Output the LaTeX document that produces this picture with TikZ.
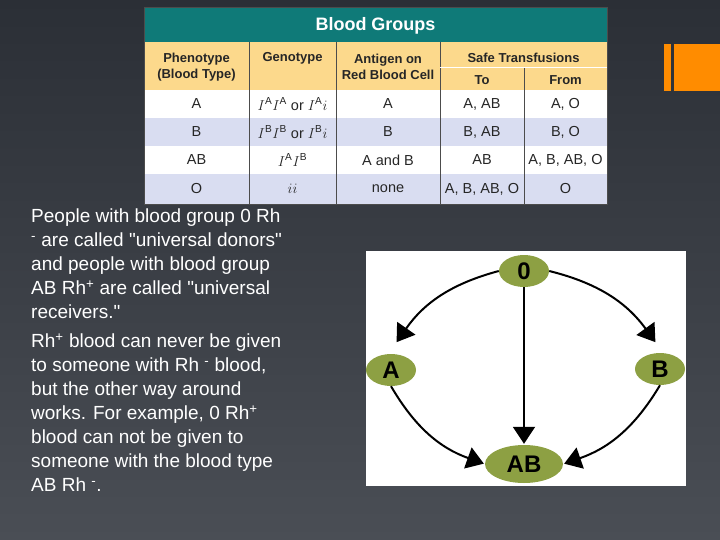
\documentclass[tikz,border=0pt]{standalone}
\usepackage{fontspec}
\setmainfont{Liberation Sans}
\usetikzlibrary{shapes.geometric,arrows.meta}
\definecolor{bgdark}{HTML}{2B2F36}
\definecolor{bglight}{HTML}{4A4E55}
\definecolor{teal}{HTML}{0F7A78}
\definecolor{hdr}{HTML}{FCD98C}
\definecolor{rowblue}{HTML}{D9DDF1}
\definecolor{accent}{HTML}{FF8C00}
\definecolor{grp}{HTML}{8DA043}
\newcommand{\dq}{\textquotedbl}
\tikzset{
  cell/.style={font=\fontsize{14.5}{15}\selectfont, text=black!85},
  head/.style={cell, align=center, font=\fontsize{13}{16}\selectfont\bfseries},
  grpnode/.style={shape=ellipse, fill=grp, inner sep=1pt, minimum width=50, minimum height=32, font=\fontsize{24}{24}\selectfont\bfseries},
  flow/.style={-{Triangle[length=17pt,width=22pt]}, line width=2pt, shorten >=1pt}
}
\begin{document}
\begin{tikzpicture}[x=1pt,y=-1pt]
\useasboundingbox (0,0) rectangle (720,540);
\shade[top color=bgdark, bottom color=bglight] (0,0) rectangle (720,540);
%%% accent bars
\fill[accent] (664,44) rectangle (671,91);
\fill[accent] (674,44) rectangle (720,91);
%%% table
\fill[teal] (144,7) rectangle (607,42);
\fill[hdr] (144,42) rectangle (607,90);
\fill[white] (144,90) rectangle (607,118);
\fill[rowblue] (144,118) rectangle (607,146);
\fill[white] (144,146) rectangle (607,174);
\fill[rowblue] (144,174) rectangle (607,204);
\draw[black!70] (249,42)--(249,204) (336,42)--(336,204) (440,42)--(440,204) (524,67)--(524,204);
\draw[white] (440,67)--(607,67);
\draw[black!70] (144,7) rectangle (607,204);
\node[head, text=white, font=\fontsize{18}{18}\selectfont\bfseries] (title) at (375.5,26) {Blood Groups};
\node[head] (phen) at (196.5,67) {Phenotype\\(Blood Type)};
\node[head] (geno) at (292.5,58) {Genotype};
\node[head] (anti) at (388,67) {Antigen on\\Red Blood Cell};
\node[head] (safe) at (523.5,58) {Safe Transfusions};
\node[head] (to) at (482,80) {To};
\node[head] (from) at (565.5,80) {From};
\foreach \y/\p/\g/\a/\t/\f in {
  104/A/{$I^{\mathrm{A}}I^{\mathrm{A}}$ or $I^{\mathrm{A}}i$}/A/{A, AB}/{A, O},
  132/B/{$I^{\mathrm{B}}I^{\mathrm{B}}$ or $I^{\mathrm{B}}i$}/B/{B, AB}/{B, O},
  160/AB/{$I^{\mathrm{A}}I^{\mathrm{B}}$}/A and B/AB/{A, B, AB, O},
  189/O/{$ii$}/none/{A, B, AB, O}/O}{
  \node[cell] at (196.5,\y) {\p};
  \node[cell] at (292.5,\y) {\g};
  \node[cell] at (388,\y) {\a};
  \node[cell] at (482,\y) {\t};
  \node[cell] at (565.5,\y) {\f};
}
%%% text
\node[anchor=north west, align=left, text=white, inner sep=0pt,
  font=\fontsize{19}{24}\selectfont] (txt) at (31,209)
  {People with blood group 0 Rh\\
   \textsuperscript{-} are called \dq universal donors\dq\\
   and people with blood group\\
   AB Rh\textsuperscript{+} are called \dq universal\\
   receivers.\dq\\[5pt]
   Rh\textsuperscript{+} blood can never be given\\
   to someone with Rh \textsuperscript{-} blood,\\
   but the other way around\\
   works. For example, 0 Rh\textsuperscript{+}\\
   blood can not be given to\\
   someone with the blood type\\
   AB Rh \textsuperscript{-}.};
%%% donor diagram
\fill[white] (366,251) rectangle (686,486);
\node[grpnode] (O) at (524,271) {0};
\node[grpnode] (A) at (391,370) {A};
\node[grpnode] (B) at (660,369) {B};
\node[grpnode, minimum width=78, minimum height=38] (AB) at (524,464) {AB};
\draw[flow] (O.west) to[bend right=20] (396,343);
\draw[flow] (O.east) to[bend left=20] (656,343);
\draw[flow] (O.south) -- (AB.north);
\draw[flow] (A.south) to[bend right=20] (AB.west);
\draw[flow] (B.south) to[bend left=20] (AB.east);
\end{tikzpicture}
\end{document}
